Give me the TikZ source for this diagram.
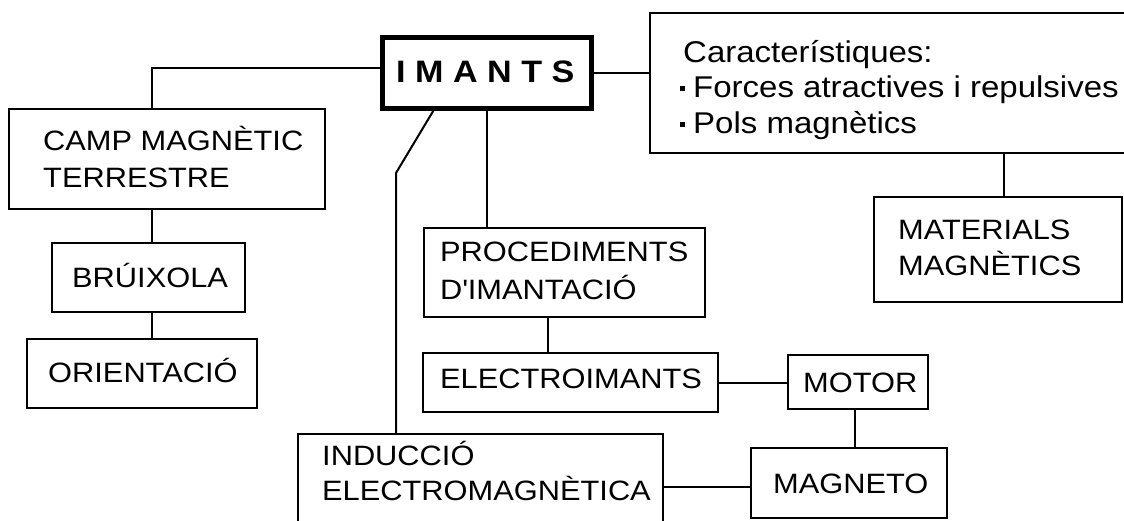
\documentclass[tikz,border=0pt]{standalone}
\usepackage{fontspec}
\setmainfont{Liberation Sans}[FakeStretch=1.1]
\begin{document}
\begin{tikzpicture}[x=1pt,y=-1pt,
  box/.style={draw, line width=2pt, inner sep=0pt, outer sep=0pt, anchor=north west},
  lnk/.style={line width=2pt},
  lbl/.style={anchor=base west, inner sep=0pt, font=\fontsize{28}{34}\selectfont},
  clbl/.style={anchor=base west, inner sep=0pt, font=\fontsize{30}{36}\selectfont}]
\useasboundingbox (0,0) rectangle (1124,520);
\clip (0,0) rectangle (1124,520);
% boxes
\node[box, line width=5pt, minimum width=209pt, minimum height=71pt] (imants) at (382,37) {};
\node[box, minimum width=480pt, minimum height=140pt] (chr) at (650,13) {};
\node[box, minimum width=316pt, minimum height=100pt] (camp) at (9,109) {};
\node[box, minimum width=193pt, minimum height=69pt] (bru) at (52,243) {};
\node[box, minimum width=230pt, minimum height=69pt] (ori) at (27,339) {};
\node[box, minimum width=281pt, minimum height=89pt] (proc) at (424,228) {};
\node[box, minimum width=248pt, minimum height=105pt] (mat) at (874,197) {};
\node[box, minimum width=295pt, minimum height=59pt] (elec) at (423,353) {};
\node[box, minimum width=140pt, minimum height=54pt] (motor) at (788,355) {};
\node[box, minimum width=196pt, minimum height=70pt] (mag) at (751,448) {};
\node[box, minimum width=365pt, minimum height=95pt] (ind) at (298,434) {};
% texts
\node[anchor=base west, inner sep=0pt, font=\fontsize{31}{36}\selectfont\bfseries] (imantsT) at (396,82)
  {I\hspace{9.5pt}M\hspace{9.5pt}A\hspace{9.5pt}N\hspace{9.5pt}T\hspace{9.5pt}S};
\node[clbl] (chrA) at (683,62) {Característiques:};
\node[clbl] (chrB) at (680,97) {\makebox[13pt][l]{\raisebox{6pt}{\rule{5pt}{5pt}}}Forces atractives i repulsives};
\node[clbl] (chrC) at (680,133) {\makebox[13pt][l]{\raisebox{6pt}{\rule{5pt}{5pt}}}Pols magnètics};
\node[lbl] (campA) at (43,150) {CAMP MAGNÈTIC};
\node[lbl] (campB) at (43,187) {TERRESTRE};
\node[lbl] (bruT) at (72,287) {BRÚIXOLA};
\node[lbl] (oriT) at (48,382) {ORIENTACIÓ};
\node[lbl] (procA) at (440,261) {PROCEDIMENTS};
\node[lbl] (procB) at (440,299) {D\textquotesingle IMANTACIÓ};
\node[lbl] (matA) at (898,239) {MATERIALS};
\node[lbl] (matB) at (898,275) {MAGNÈTICS};
\node[lbl] (elecT) at (440,388) {ELECTROIMANTS};
\node[lbl] (motorT) at (803,392) {MOTOR};
\node[lbl] (magT) at (773,493) {MAGNETO};
\node[lbl] (indA) at (322,465) {INDUCCIÓ};
\node[lbl] (indB) at (322,500) {ELECTROMAGNÈTICA};
% connectors
\coordinate (bend) at (396,173);
\draw[lnk] ([yshift=4.5pt]imants.west) -| ([xshift=-15pt]camp.north);
\draw[lnk] (imants.east) -- (imants.east -| chr.west);
\draw[lnk] ([xshift=-51.5pt]imants.south) -- (bend) -- (bend |- ind.north);
\draw[lnk] (imants.south) -- (imants.south |- proc.north);
\draw[lnk] ([xshift=-15pt]camp.south) -- ([xshift=-15pt]camp.south |- bru.north);
\draw[lnk] ([xshift=-15pt]camp.south |- bru.south) -- ([xshift=-15pt]camp.south |- ori.north);
\draw[lnk] ([xshift=-16.5pt]proc.south) -- ([xshift=-16.5pt]proc.south |- elec.north);
\draw[lnk] (elec.east) -- (elec.east -| motor.west);
\draw[lnk] ([xshift=-3pt]motor.south) -- ([xshift=-3pt]motor.south |- mag.north);
\draw[lnk] ([yshift=-4pt]mag.west) -- ([yshift=-4pt]mag.west -| ind.east);
\draw[lnk] ([xshift=6pt]chr.south -| mat.north) -- ([xshift=6pt]mat.north);
\end{tikzpicture}
\end{document}
